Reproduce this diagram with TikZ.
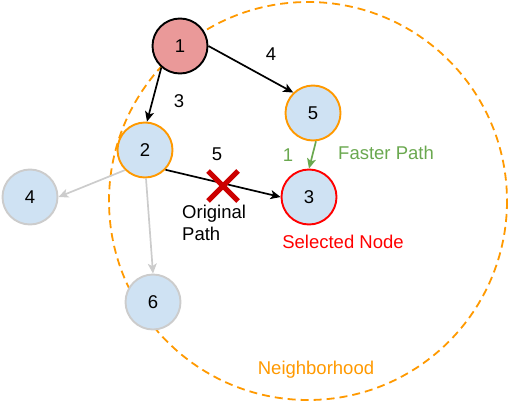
\documentclass[tikz,border=0pt]{standalone}
\usepackage{fontspec}
\setmainfont{Liberation Sans}
\usetikzlibrary{arrows.meta}
\definecolor{nodeblue}{HTML}{CFE2F3}
\definecolor{nodepink}{HTML}{EA9999}
\definecolor{orng}{HTML}{FF9900}
\definecolor{redc}{HTML}{FF0000}
\definecolor{darkred}{HTML}{CC0000}
\definecolor{lgray}{HTML}{CCCCCC}
\definecolor{grn}{HTML}{6AA84F}
\tikzset{
  vtx/.style={circle, minimum size=55pt, inner sep=0pt, line width=1.9pt, fill=nodeblue, font=\fontsize{18.5}{22}\selectfont},
  lbl/.style={inner sep=0pt, font=\fontsize{18.5}{22}\selectfont},
  edge/.style={line width=1.7pt, -{Stealth[length=10pt,width=9pt,inset=2.5pt]}},
}
\begin{document}
\begin{tikzpicture}[x=1pt,y=-1pt]
\useasboundingbox (0,0) rectangle (510,404);
% neighborhood
\draw[orng, line width=1.8pt, dash pattern=on 8pt off 5pt] (308,201) circle (199);
% nodes
\node[vtx, draw=black, fill=nodepink] (n1) at (180,46) {1};
\node[vtx, draw=orng] (n5) at (313,113) {5};
\node[vtx, draw=orng] (n2) at (145,150) {2};
\node[vtx, draw=redc] (n3) at (309,197) {3};
\node[vtx, draw=lgray] (n4) at (30,197) {4};
\node[vtx, draw=lgray] (n6) at (153,302) {6};
% edges
\draw[edge] (n1.229) -- (n2.86);
\draw[edge] (n1.0) -- (n5.134);
\draw[edge, grn] (n5.-84) -- (n3.north);
\draw[edge] (n2.-44) -- (n3.west);
\draw[edge, lgray] (n2.225) -- (n4.east);
\draw[edge, lgray] (n2.-88) -- (n6.north);
% X mark
\coordinate (xm) at (223,186);
\draw[darkred, line width=5pt] ([shift={(-15,-15)}]xm) -- ([shift={(15,15)}]xm);
\draw[darkred, line width=5pt] ([shift={(-15,15)}]xm) -- ([shift={(15,-15)}]xm);
% labels
\node[lbl] (w4) at (271,54) {4};
\node[lbl] (w3) at (179,101) {3};
\node[lbl] (w5) at (217,154) {5};
\node[lbl, text=grn] (w1) at (288,155) {1};
\node[lbl, text=grn, anchor=west] (fp) at (338,153) {Faster Path};
\node[lbl, align=left, anchor=west] (op) at (182,223) {Original\\Path};
\node[lbl, text=redc] (sn) at (343,242) {Selected Node};
\node[lbl, text=orng] (nb) at (316,370) {Neighborhood};
\end{tikzpicture}
\end{document}
